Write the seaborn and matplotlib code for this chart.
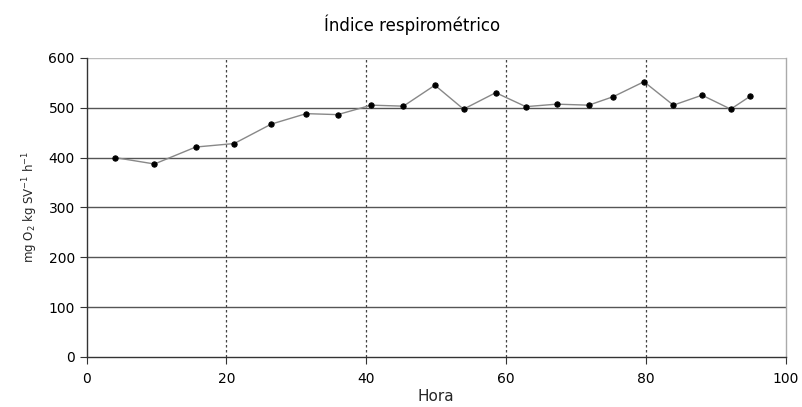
import matplotlib
matplotlib.use("Agg")
import matplotlib.pyplot as plt
import seaborn as sns
import pandas as pd

hora = [4.0, 9.7, 15.6, 21.1, 26.4, 31.4, 35.9, 40.7, 45.3, 49.8, 53.9,
        58.5, 62.8, 67.2, 71.8, 75.3, 79.7, 83.9, 88.0, 92.1, 94.9]
indice = [400, 387, 421, 428, 467, 488, 486, 505, 503, 545, 497,
          530, 502, 507, 505, 522, 552, 505, 525, 497, 523]
x_ticks = [0, 20, 40, 60, 80, 100]
y_ticks = [0, 100, 200, 300, 400, 500, 600]

df = pd.DataFrame({"Hora": hora, "Indice": indice})

sns.set_style("white")
plt.rcParams['font.family'] = ['DejaVu Sans']

fig = plt.figure(figsize=(8.02, 4.07), dpi=100)
ax = fig.add_axes([0.108, 0.123, 0.872, 0.735])

for y in y_ticks[1:-1]:
    ax.axhline(y, color="#555555", lw=1.0, zorder=1)
ax.axhline(600, color="#bbbbbb", lw=1.0, zorder=1)
for x in x_ticks[1:-1]:
    ax.axvline(x, color="#444444", lw=0.9, ls=(0, (2, 2)), zorder=1)

sns.lineplot(data=df, x="Hora", y="Indice", ax=ax, color="#888888", lw=1.0,
             marker="o", markersize=3.8, markerfacecolor="black",
             markeredgecolor="black", zorder=3)

ax.set_xlim(0, 100)
ax.set_ylim(0, 600)
ax.set_xticks(x_ticks)
ax.set_yticks(y_ticks)
ax.tick_params(axis="both", direction="out", length=5, width=0.8,
               colors="#333333", labelsize=10, labelcolor="black",
               bottom=True, left=True)
ax.tick_params(axis="x", pad=6)

for s in ["left", "bottom"]:
    ax.spines[s].set_color("#333333")
    ax.spines[s].set_linewidth(1.0)
ax.spines["top"].set_visible(False)
ax.spines["right"].set_color("#aaaaaa")
ax.spines["right"].set_linewidth(1.0)

ax.set_xlabel("Hora", fontsize=11, labelpad=2)
ax.set_ylabel(r"mg O$_2$ kg SV$^{-1}$ h$^{-1}$", fontsize=8.5, labelpad=6)
fig.suptitle("Índice respirométrico", fontsize=12, x=0.514, y=0.965,
             color="black")

fig.savefig("out.png", dpi=100)
